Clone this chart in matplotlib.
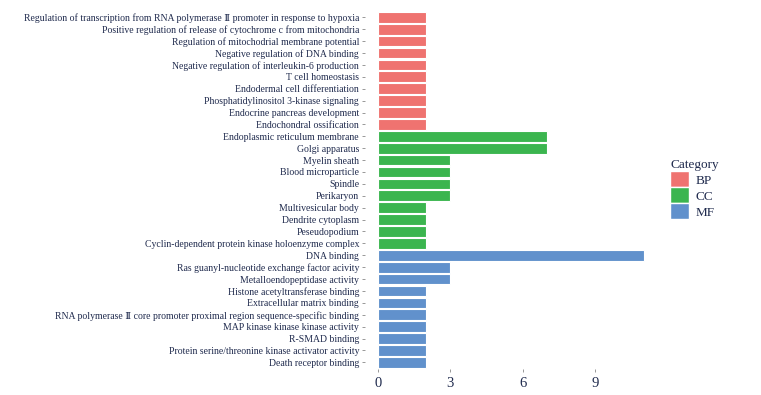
import matplotlib
matplotlib.use("Agg")
import matplotlib.pyplot as plt
from matplotlib.patches import Patch

terms = [
    "Regulation of transcription from RNA polymerase \u2161 promoter in response to hypoxia",
    "Positive regulation of release of cytochrome c from mitochondria",
    "Regulation of mitochodrial membrane potential",
    "Negative regulation of DNA binding",
    "Negative regulation of interleukin-6 production",
    "T cell homeostasis",
    "Endodermal cell differentiation",
    "Phosphatidylinositol 3-kinase signaling",
    "Endocrine pancreas development",
    "Endochondral ossification",
    "Endoplasmic reticulum membrane",
    "Golgi apparatus",
    "Myelin sheath",
    "Blood microparticle",
    "Spindle",
    "Perikaryon",
    "Multivesicular body",
    "Dendrite cytoplasm",
    "Peseudopodium",
    "Cyclin-dependent protein kinase holoenzyme complex",
    "DNA binding",
    "Ras guanyl-nucleotide exchange factor acivity",
    "Metalloendopeptidase activity",
    "Histone acetyltransferase binding",
    "Extracellular matrix binding",
    "RNA polymerase \u2161 core promoter proximal region sequence-specific binding",
    "MAP kinase kinase kinase activity",
    "R-SMAD binding",
    "Protein serine/threonine kinase activator activity",
    "Death receptor binding",
]
counts = [2, 2, 2, 2, 2, 2, 2, 2, 2, 2,
          7, 7, 3, 3, 3, 3, 2, 2, 2, 2,
          11, 3, 3, 2, 2, 2, 2, 2, 2, 2]
categories = ["BP"] * 10 + ["CC"] * 10 + ["MF"] * 10
cat_names = ["BP", "CC", "MF"]
cat_colors = {"BP": "#EF7370", "CC": "#3BB54F", "MF": "#6191CC"}
xticks = [0, 3, 6, 9]

text_color = "#1f2a4d"
fams = ["Liberation Serif", "DejaVu Serif", "Noto Sans CJK SC"]
plt.rcParams["font.family"] = fams

fig = plt.figure(figsize=(7.61, 3.95), dpi=100)
ax = fig.add_axes([0.4792, 0.0646, 0.8633 - 0.4792, 0.9742 - 0.0646])

n = len(terms)
ypos = [n - i for i in range(n)]
ax.barh(ypos, counts, height=0.9,
        color=[cat_colors[c] for c in categories],
        edgecolor="white", linewidth=0.8)

ax.set_yticks(ypos)
ax.set_yticklabels(terms, fontsize=7.0, color=text_color)
ax.set_ylim(0.4, n + 0.6)
xmax = max(counts)
ax.set_xlim(-0.05 * xmax, xmax * 1.05)
ax.set_xticks(xticks)
ax.set_xticklabels([str(t) for t in xticks], fontsize=10.5, color=text_color)
ax.tick_params(axis="y", length=2.5, width=0.6, color="#888888", pad=1.5)
ax.tick_params(axis="x", length=2.5, width=0.6, color="#888888", pad=3)
for s in ax.spines.values():
    s.set_visible(False)
ax.set_facecolor("white")

handles = [Patch(facecolor=cat_colors[c], edgecolor="white", label=c) for c in cat_names]
leg = fig.legend(handles=handles, title="Category", loc="upper left",
                 bbox_to_anchor=(0.881, 0.597), frameon=False,
                 fontsize=9.5, title_fontsize=9.5,
                 handlelength=1.4, handleheight=1.5, handletextpad=0.5,
                 labelspacing=0.0, borderaxespad=0.0, borderpad=0.0)
for t in leg.get_texts():
    t.set_color(text_color)
leg.get_title().set_color(text_color)
leg._legend_box.align = "left"

fig.savefig("out.png", dpi=100)
